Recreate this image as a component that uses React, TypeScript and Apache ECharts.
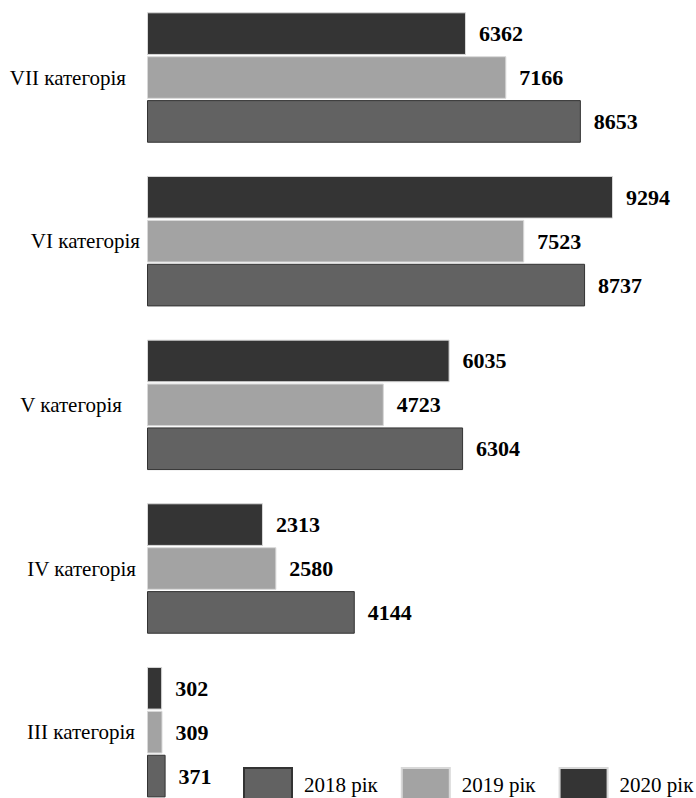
import React, { useEffect, useRef } from "react";
import * as echarts from "echarts";

const categories = ["III категорія", "IV категорія", "V категорія", "VI категорія", "VII категорія"];
const years = ["2018 рік", "2019 рік", "2020 рік"];
const values2018 = [371, 4144, 6304, 8737, 8653];
const values2019 = [309, 2580, 4723, 7523, 7166];
const values2020 = [302, 2313, 6035, 9294, 6362];
const colors = ["#626262", "#a3a3a3", "#343434"];
const borders = ["#333333", "#d8d8d8", "#d8d8d8"];
// extra right padding of each category label (style only)
const labelPadRight = [5, 4, 18, 0, 14];

const FONT = "Liberation Serif";
const OFFSET = 16;

export default function App() {
  const ref = useRef<HTMLDivElement>(null);
  useEffect(() => {
    if (!ref.current) return;
    const chart = echarts.init(ref.current, undefined, { renderer: "svg" });
    const data = [values2018, values2019, values2020];
    const order = [2, 1, 0];
    chart.setOption({
      animation: false,
      backgroundColor: "#ffffff",
      textStyle: { fontFamily: FONT },
      grid: { left: 147, width: 501.4, top: OFFSET - 4.3, height: 820, containLabel: false },
      legend: {
        data: years,
        orient: "horizontal",
        left: 243,
        top: 767 + OFFSET,
        width: 480,
        padding: 0,
        itemWidth: 48,
        itemHeight: 34,
        itemGap: 23,
        icon: "rect",
        textStyle: { fontFamily: FONT, fontSize: 21, color: "#000", padding: [0, 0, 0, 7] },
      },
      xAxis: {
        type: "value",
        min: 0,
        max: 10000,
        show: false,
        splitLine: { show: false },
      },
      yAxis: {
        type: "category",
        data: categories.map((c, i) => ({
          value: c,
          textStyle: { padding: [0, labelPadRight[i], 0, 0] },
        })),
        axisLine: { show: false },
        axisTick: { show: false },
        axisLabel: { margin: 7, fontFamily: FONT, fontSize: 21, color: "#000" },
      },
      series: order.map((i) => ({
        name: years[i],
        type: "bar",
        data: data[i],
        barCategoryGap: "20.3%",
        barGap: "3%",
        itemStyle: { color: colors[i], borderColor: borders[i], borderWidth: 1 },
        label: {
          show: true,
          position: "right",
          distance: 13,
          fontFamily: FONT,
          fontSize: 22,
          fontWeight: "bold",
          color: "#000",
        },
      })),
    });
    return () => chart.dispose();
  }, []);
  return (
    <div
      ref={ref}
      style={{ position: "fixed", left: 0, top: -OFFSET, width: 696, height: 798 + 2 * OFFSET, background: "#fff" }}
    />
  );
}
